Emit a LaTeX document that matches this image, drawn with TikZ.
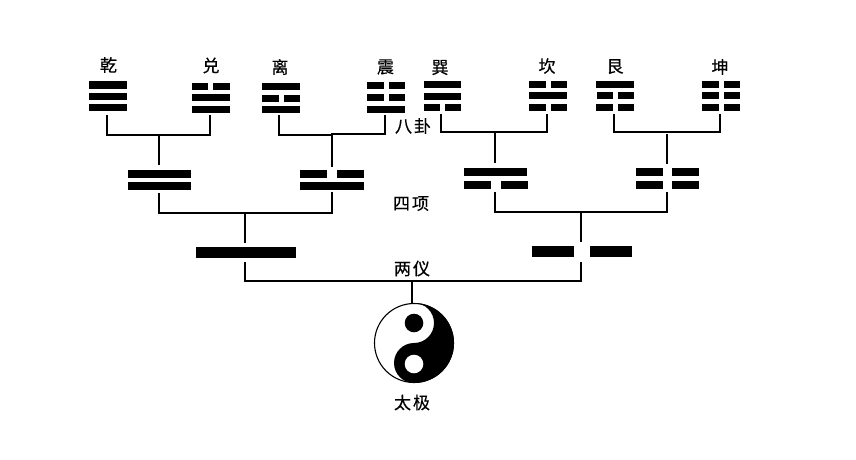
\documentclass[tikz,border=0pt]{standalone}
\usepackage{fontspec}
\newfontfamily\cjk[FakeBold=0.4]{Noto Sans CJK SC}
\tikzset{
  barn/.style={fill=black,draw=none,inner sep=0pt,outer sep=0pt,shape=rectangle},
  conn/.style={draw=black,line width=2.1pt,line join=miter,line cap=butt},
  lab/.style={font=\cjk\fontsize{17}{17}\selectfont,inner sep=0pt,text=black},
}
% name, x1, x2, y1, y2
\newcommand{\barN}[5]{\node[barn,minimum width={(#3-#2)*1pt},minimum height={(#5-#4)*1pt}] (#1) at ({(#2+#3)/2},{(#4+#5)/2}) {};}
\begin{document}
\begin{tikzpicture}[x=1pt,y=-1pt]
\useasboundingbox (0,0) rectangle (856,459);
\fill[white] (0,0) rectangle (856,459);
% labels
\node[lab] (lqian) at (108.5,65) {乾};
\node[lab] (ldui) at (211,65.5) {兑};
\node[lab] (lli) at (280,67) {离};
\node[lab] (lzhen) at (385.5,67) {震};
\node[lab] (lxun) at (440,67.5) {巽};
\node[lab] (lkan) at (547,66) {坎};
\node[lab] (lgen) at (615,66.5) {艮};
\node[lab] (lkun) at (720,67) {坤};
\node[lab] (lbagua) at (413,126) {八\hspace{2pt}卦};
\node[lab] (lsixiang) at (411,203.5) {四\hspace{2pt}项};
\node[lab] (lliangyi) at (412,268.5) {两\hspace{2pt}仪};
\node[lab] (ltaiji) at (412,402.5) {太\hspace{2pt}极};
% trigrams
\barN{qianA}{89}{127}{81}{88.5}\barN{qianB}{89}{127}{93}{100}\barN{qianC}{89}{127}{104}{111}
\barN{duiAl}{192}{208}{83}{90}\barN{duiAr}{213.3}{230}{83}{90}\barN{duiB}{192}{230}{94}{101}\barN{duiC}{192}{230}{106}{113}
\barN{liA}{262}{300}{83}{90}\barN{liBl}{262}{279}{95}{102}\barN{liBr}{284}{300}{95}{102}\barN{liC}{262}{300}{106}{113}
\barN{zhenAl}{367}{384}{82}{89}\barN{zhenAr}{389}{405}{82}{89}\barN{zhenBl}{367}{384}{94}{101}\barN{zhenBr}{389}{405}{94}{101}\barN{zhenC}{367}{405}{106}{113}
\barN{xunA}{424}{461}{81}{88}\barN{xunB}{424}{461}{93}{100}\barN{xunCl}{424}{440}{104}{111}\barN{xunCr}{445}{461}{104}{111}
\barN{kanAl}{529}{546}{81}{88}\barN{kanAr}{551}{567}{81}{88}\barN{kanB}{529}{567}{92}{99}\barN{kanCl}{529}{546}{104}{111}\barN{kanCr}{551}{567}{104}{111}
\barN{genA}{596}{634}{81}{88}\barN{genBl}{597}{613}{92}{99}\barN{genBr}{618}{634}{92}{99}\barN{genCl}{596}{613}{104}{111}\barN{genCr}{618}{634}{104}{111}
\barN{kunAl}{702}{719}{81}{88}\barN{kunAr}{724}{740}{81}{88}\barN{kunBl}{702}{719}{92}{99}\barN{kunBr}{724}{740}{92}{99}\barN{kunCl}{702}{719}{104}{111}\barN{kunCr}{724}{740}{104}{111}
% four images
\barN{fourAa}{128}{191}{170}{177.5}\barN{fourAb}{128}{191}{182}{190}
\barN{fourBal}{300}{327}{170}{177.5}\barN{fourBar}{337}{364}{170}{177.5}\barN{fourBb}{300}{364}{182}{190}
\barN{fourCa}{464}{527}{168}{176}\barN{fourCbl}{464}{491}{181}{189}\barN{fourCbr}{501}{528}{181}{189}
\barN{fourDal}{636}{663}{168}{176}\barN{fourDar}{672}{699}{168}{176}\barN{fourDbl}{636}{663}{181}{189}\barN{fourDbr}{672}{699}{181}{189}
% two forms
\barN{yang}{196}{296}{247}{258}
\barN{yinl}{532}{574}{246}{257}\barN{yinr}{590}{632}{246}{257}
% connector ends
\coordinate (cqian) at (107,115); \coordinate (cdui) at (210,115);
\coordinate (cli) at (279,115); \coordinate (czhen) at (385,115);
\coordinate (cxun) at (441,114); \coordinate (ckan) at (547,114);
\coordinate (cgen) at (614,114); \coordinate (ckun) at (720,114);
\coordinate (jA) at (159,135); \coordinate (tA) at (159,165);
\coordinate (jB) at (332,135); \coordinate (jBb) at (332,134); \coordinate (tB) at (332,167);
\coordinate (jC) at (495,132); \coordinate (tC) at (495,163);
\coordinate (jDh) at (667,132); \coordinate (jD) at (667,134); \coordinate (tD) at (667,164);
\coordinate (bA) at (159,193); \coordinate (bB) at (332,192);
\coordinate (bC) at (495,192); \coordinate (bD) at (667,192);
\coordinate (jE) at (245,213); \coordinate (tE) at (245,243);
\coordinate (jF) at (581,212); \coordinate (tF) at (581,242);
\coordinate (bE) at (245,262); \coordinate (bF) at (581,262);
\coordinate (jG) at (412,281); \coordinate (tG) at (412,303);
% connectors
\draw[conn] (cqian) |- (cdui |- jA) -- (cdui);
\draw[conn] (jA) -- (tA);
\draw[conn] (cli) |- (jB) -- (jBb) -| (czhen);
\draw[conn] (jBb) -- (tB);
\draw[conn] (cxun) |- (ckan |- jC) -- (ckan);
\draw[conn] (jC) -- (tC);
\draw[conn] (cgen) |- (ckun |- jDh) -- (ckun);
\draw[conn] (jD) -- (tD);
\draw[conn] (bA) |- (bB |- jE) -- (bB);
\draw[conn] (jE) -- (tE);
\draw[conn] (bC) |- (bD |- jF) -- (bD);
\draw[conn] (jF) -- (tF);
\draw[conn] (bE) |- (bF |- jG) -- (bF);
\draw[conn] (jG) -- (tG);
% taiji
\begin{scope}[y=1pt]
\coordinate (tc) at (414,-343);
\fill[black] (414,-303) arc[start angle=90,end angle=-90,radius=40]
  arc[start angle=-90,end angle=-270,radius=20]
  arc[start angle=-90,end angle=90,radius=20] -- cycle;
\fill[black] (414,-323) circle[radius=9.3];
\fill[white] (414,-364) circle[radius=9.3];
\draw[black,line width=1.1pt] (tc) circle[radius=39.5];
\end{scope}
\end{tikzpicture}
\end{document}
